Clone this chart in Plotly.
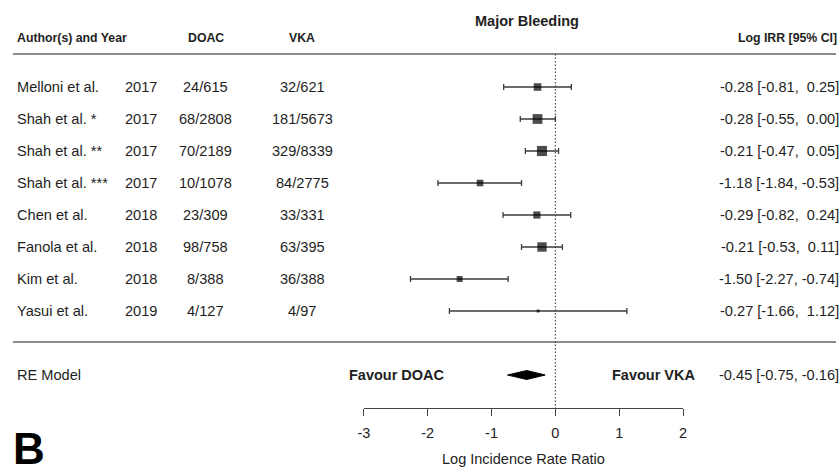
import plotly.graph_objects as go

# ---------------- data ----------------
authors = ["Melloni et al.", "Shah et al. *", "Shah et al. **", "Shah et al. ***",
           "Chen et al.", "Fanola et al.", "Kim et al.", "Yasui et al."]
years = ["2017", "2017", "2017", "2017", "2018", "2018", "2018", "2019"]
doac = ["24/615", "68/2808", "70/2189", "10/1078", "23/309", "98/758", "8/388", "4/127"]
vka = ["32/621", "181/5673", "329/8339", "84/2775", "33/331", "63/395", "36/388", "4/97"]
log_irr = [-0.28, -0.28, -0.21, -1.18, -0.29, -0.21, -1.50, -0.27]
ci_low = [-0.81, -0.55, -0.47, -1.84, -0.82, -0.53, -2.27, -1.66]
ci_high = [0.25, 0.00, 0.05, -0.53, 0.24, 0.11, -0.74, 1.12]
weights = [11.9, 19.8, 21.2, 9.0, 10.7, 18.2, 7.4, 1.8]  # % weight (box size)

re_label = "RE Model"
re_est, re_low, re_high = -0.45, -0.75, -0.16

tick_vals = [-3, -2, -1, 0, 1, 2]
tick_text = ["-3", "-2", "-1", "0", "1", "2"]

headers = ["Author(s) and Year", "DOAC", "VKA", "Log IRR [95% CI]"]
title_text = "Major Bleeding"
xlabel = "Log Incidence Rate Ratio"
favour_left, favour_right = "Favour DOAC", "Favour VKA"
panel_letter = "B"

# ---------------- layout helpers ----------------
W, H = 840, 469
X0, UNIT = 556.0, 64.6   # pixel of x=0, pixels per unit
Y0, ROW = 343.0, 32.0    # pixel of y=0, pixels per row


def px2x(p):
    return (p - X0) / UNIT


def py2y(p):
    return (Y0 - p) / ROW


k = len(authors)
rows = [k - i for i in range(k)]   # 8 .. 1

TXT = "#1e1e1e"
FONT = "Liberation Sans, Arial, sans-serif"
LINEC = "#3c3c3c"

fig = go.Figure()

# separator lines
for yy in (py2y(54), py2y(342)):
    fig.add_trace(go.Scatter(x=[px2x(7), px2x(845)], y=[yy, yy], mode="lines",
                             line=dict(color="#666666", width=1.6), hoverinfo="skip"))

# reference line at 0
fig.add_trace(go.Scatter(x=[0, 0], y=[py2y(54), py2y(408)], mode="lines",
                         line=dict(color="#444444", width=1.1, dash="1.5px,2px"),
                         hoverinfo="skip"))

# confidence intervals (drawn first)
fig.add_trace(go.Scatter(
    x=log_irr, y=rows, mode="markers",
    marker=dict(symbol="square", color="black", size=0.1, line=dict(width=0)),
    error_x=dict(type="data", symmetric=False,
                 array=[h - e for h, e in zip(ci_high, log_irr)],
                 arrayminus=[e - l for e, l in zip(log_irr, ci_low)],
                 color=LINEC, thickness=1.3, width=3),
    hoverinfo="skip"))

# study estimates (boxes on top)
fig.add_trace(go.Scatter(
    x=log_irr, y=rows, mode="markers",
    marker=dict(symbol="square", color="black", size=[2.2 * w ** 0.5 for w in weights],
                line=dict(width=0)),
    hoverinfo="skip"))

# summary diamond
dh = 4.5 / ROW
fig.add_trace(go.Scatter(x=[re_low, re_est, re_high, re_est, re_low],
                         y=[-1, -1 + dh, -1, -1 - dh, -1],
                         mode="lines", fill="toself", fillcolor="black",
                         line=dict(color="black", width=1), hoverinfo="skip"))

# invisible trace for the tick axis
fig.add_trace(go.Scatter(x=[-3, 2], y=[0, 0], xaxis="x2", yaxis="y", mode="markers",
                         marker=dict(opacity=0), hoverinfo="skip"))

ann = []
SHIFT = {"left": -8, "right": 7, "center": 0}


def txt(x, y, s, anchor="left", size=14.6, bold=False, color=TXT, shift=None):
    ann.append(dict(x=x, y=y, xref="x", yref="y", text=("<b>%s</b>" % s) if bold else s,
                    showarrow=False, xanchor=anchor, yanchor="middle",
                    xshift=SHIFT[anchor] if shift is None else shift,
                    font=dict(family=FONT, size=size, color=color)))


# headers
hy = py2y(38)
txt(px2x(17), hy, headers[0], "left", 12.3, True)
txt(px2x(202), hy, headers[1], "center", 12.3, True)
txt(px2x(300), hy, headers[2], "center", 12.3, True)
txt(px2x(836), hy, headers[3], "right", 12.3, True)
txt(px2x(527), py2y(21), title_text, "center", 14.5, True)

# study rows
for i in range(k):
    y = rows[i]
    txt(px2x(17), y, authors[i], "left")
    txt(px2x(137), y, years[i], "center")
    txt(px2x(202), y, doac[i], "center")
    txt(px2x(300), y, vka[i], "center")
    lo = "%.2f" % ci_low[i]
    hi = "%.2f" % ci_high[i]
    if ci_high[i] >= 0:
        hi = "&nbsp;" + hi
    txt(px2x(838), y, "%.2f [%s, %s]" % (log_irr[i], lo, hi), "right")

# summary row
txt(px2x(17), -1, re_label, "left")
txt(px2x(838), -1, "%.2f [%.2f, %.2f]" % (re_est, re_low, re_high), "right")
txt(px2x(396), -1, favour_left, "center", 14.5, True)
txt(px2x(656), -1, favour_right, "center", 14.5, True)

# axis title and panel letter
txt(-0.5, py2y(459), xlabel, "center", 14.5)
txt(px2x(23), py2y(448), panel_letter, "center", 44, True, "black")

fig.update_layout(
    width=W, height=H, margin=dict(l=0, r=0, t=0, b=0),
    paper_bgcolor="white", plot_bgcolor="rgba(0,0,0,0)", showlegend=False,
    xaxis=dict(range=[px2x(0), px2x(W)], visible=False, fixedrange=True),
    yaxis=dict(range=[py2y(H), py2y(0)], visible=False, fixedrange=True),
    xaxis2=dict(domain=[(X0 - 3 * UNIT) / W, (X0 + 2 * UNIT) / W], range=[-3, 2],
                anchor="free", position=1 - 408 / H, side="bottom",
                tickvals=tick_vals, ticktext=tick_text, ticks="outside", ticklen=7,
                tickwidth=1.3, tickcolor="#444444", showline=True, linewidth=1.3,
                linecolor="#444444", showgrid=False, zeroline=False,
                tickfont=dict(family=FONT, size=14.5, color=TXT),
                ticklabelstandoff=4, fixedrange=True),
    annotations=ann,
)

fig.write_html("out.html", config={"displayModeBar": False},
               post_script="document.body.style.margin='0';"
                           "document.body.style.overflow='hidden';"
                           "document.documentElement.style.overflow='hidden';")
